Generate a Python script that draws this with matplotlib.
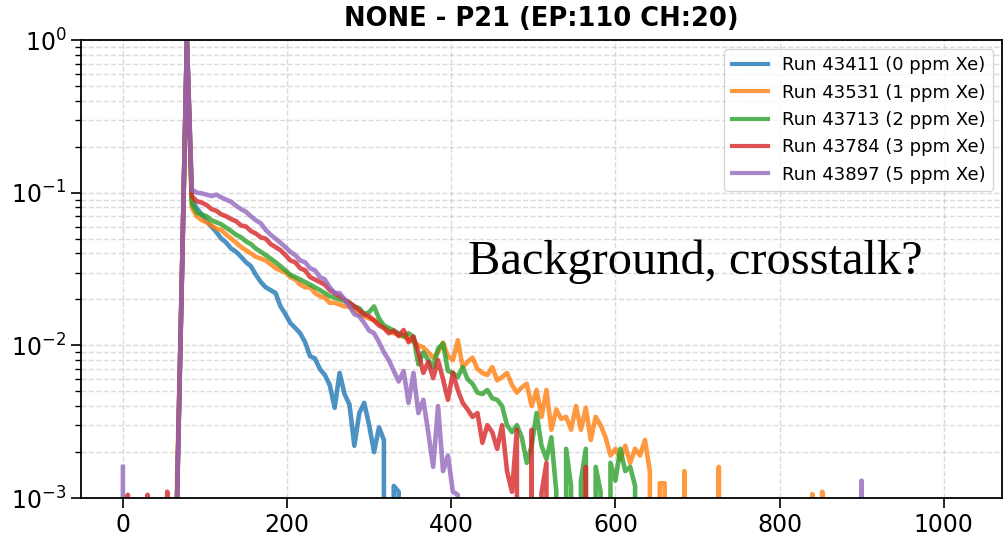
import numpy as np
import matplotlib
matplotlib.use("Agg")
import matplotlib.pyplot as plt

# Bin centres of the amplitude histogram (ADC units)
bin_width = 6
n_bins = 171
bins = np.arange(n_bins) * bin_width

labels = [
    "Run 43411 (0 ppm Xe)",
    "Run 43531 (1 ppm Xe)",
    "Run 43713 (2 ppm Xe)",
    "Run 43784 (3 ppm Xe)",
    "Run 43897 (5 ppm Xe)",
]
colors = ["tab:blue", "tab:orange", "tab:green", "tab:red", "tab:purple"]

# Normalised counts per bin, starting at bin 0; isolated far-tail counts
# are given separately as {bin centre: value}.
run_43411 = [
    0, 0, 0, 0, 0, 0, 0, 0, 0, 0, 0, 0.001, 0.03, 1.0,
    0.090, 0.079, 0.072, 0.065, 0.060, 0.055, 0.050, 0.047, 0.043, 0.041,
    0.038, 0.035, 0.033, 0.029, 0.026, 0.024, 0.023, 0.022, 0.018, 0.016,
    0.014, 0.013, 0.012, 0.0105, 0.0085, 0.0082, 0.0070, 0.0064, 0.0055, 0.0039,
    0.0066, 0.0048, 0.0041, 0.0022, 0.0036, 0.0042, 0.0030, 0.0020, 0.0029, 0.0024,
    0, 0.0012, 0.0011,
]
tail_43411 = {}

run_43531 = [
    0, 0, 0, 0, 0, 0, 0, 0, 0, 0, 0, 0.0013, 0.03, 1.0,
    0.080, 0.070, 0.066, 0.064, 0.061, 0.058, 0.057, 0.053, 0.050, 0.047,
    0.044, 0.042, 0.040, 0.038, 0.037, 0.036, 0.034, 0.032, 0.031, 0.030,
    0.028, 0.027, 0.025, 0.024, 0.024, 0.022, 0.021, 0.0205, 0.019, 0.019,
    0.0185, 0.018, 0.018, 0.017, 0.016, 0.0155, 0.015, 0.0147, 0.014, 0.013,
    0.0125, 0.012, 0.0118, 0.0114, 0.011, 0.0105, 0.0100, 0.0097, 0.0090, 0.0083,
    0.0090, 0.0104, 0.0085, 0.0080, 0.0108, 0.0072, 0.0078, 0.0083, 0.0070, 0.0066,
    0.0064, 0.0072, 0.0059, 0.0062, 0.0066, 0.0055, 0.0049, 0.0053, 0.0056, 0.0040,
    0.0051, 0.0034, 0.0051, 0.0028, 0.0038, 0.0033, 0.0034, 0.0028, 0.0040, 0.0028,
    0.0039, 0.0024, 0.0034, 0.0030, 0.0025, 0.0019, 0.0021, 0.0018, 0.0022, 0.0017,
    0.0021, 0.0019, 0.0024, 0.0015, 0, 0.00125, 0.00125,
]
tail_43531 = {684: 0.0015, 726: 0.0016, 840: 0.00106, 852: 0.0011}

run_43713 = [
    0, 0, 0, 0, 0, 0, 0, 0, 0, 0, 0, 0.001, 0.03, 1.0,
    0.085, 0.074, 0.072, 0.070, 0.066, 0.064, 0.062, 0.059, 0.056, 0.053,
    0.051, 0.048, 0.046, 0.043, 0.041, 0.039, 0.037, 0.035, 0.033, 0.031,
    0.029, 0.028, 0.027, 0.026, 0.025, 0.024, 0.023, 0.022, 0.021, 0.0205,
    0.020, 0.0195, 0.019, 0.018, 0.0175, 0.016, 0.0165, 0.018, 0.015, 0.0135,
    0.013, 0.0125, 0.012, 0.0115, 0.012, 0.0114, 0.0075, 0.0090, 0.0080, 0.0072,
    0.0095, 0.0103, 0.0068, 0.0066, 0.0062, 0.0072, 0.0060, 0.0056, 0.0049, 0.0048,
    0.0051, 0.0045, 0.0044, 0.0040, 0.0030, 0.0027, 0.0030, 0.0025, 0.0017, 0.0022,
    0.0036, 0.0022, 0.0018, 0.0025, 0.0011, 0, 0.0021, 0.0012, 0, 0.0013,
    0.0021, 0, 0.0016, 0.0011, 0, 0.0017, 0.0013, 0.0021, 0.0015, 0.0016,
    0.0012,
]
tail_43713 = {}

run_43784 = [
    0, 0.00105, 0, 0, 0, 0.00105, 0, 0, 0, 0.0011, 0, 0.001, 0.03, 1.0,
    0.095, 0.088, 0.086, 0.083, 0.078, 0.076, 0.072, 0.070, 0.067, 0.065,
    0.061, 0.060, 0.056, 0.054, 0.051, 0.050, 0.046, 0.044, 0.042, 0.039,
    0.036, 0.035, 0.032, 0.031, 0.028, 0.027, 0.026, 0.025, 0.023, 0.022,
    0.021, 0.020, 0.019, 0.018, 0.017, 0.016, 0.0155, 0.0145, 0.0135, 0.013,
    0.012, 0.0125, 0.0115, 0.0126, 0.0105, 0.0114, 0.0090, 0.0066, 0.0078, 0.0061,
    0.0080, 0.0060, 0.0044, 0.0066, 0.0051, 0.0042, 0.0038, 0.0034, 0.0036, 0.0023,
    0.0030, 0.0027, 0.0021, 0.0030, 0.0015, 0.0011, 0.0028, 0, 0, 0.0028,
    0, 0.00108, 0.0017,
]
tail_43784 = {564: 0.0016}

run_43897 = [
    0.0016, 0, 0, 0, 0, 0, 0, 0, 0, 0, 0, 0.001, 0.03, 1.0,
    0.105, 0.100, 0.099, 0.097, 0.095, 0.097, 0.093, 0.090, 0.087, 0.082,
    0.078, 0.075, 0.070, 0.066, 0.063, 0.057, 0.053, 0.050, 0.047, 0.044,
    0.041, 0.039, 0.036, 0.035, 0.032, 0.031, 0.028, 0.027, 0.024, 0.022,
    0.022, 0.020, 0.018, 0.016, 0.0155, 0.014, 0.0125, 0.0120, 0.0105, 0.0090,
    0.0080, 0.0068, 0.0058, 0.0068, 0.0042, 0.0066, 0.0036, 0.0044, 0.0027, 0.0016,
    0.0040, 0.0015, 0.0019, 0.0011, 0.00105,
]
tail_43897 = {900: 0.0013}

series = [run_43411, run_43531, run_43713, run_43784, run_43897]
tails = [tail_43411, tail_43531, tail_43713, tail_43784, tail_43897]


def full_histogram(values, tail):
    out = np.zeros(n_bins)
    out[:len(values)] = values
    for x, v in tail.items():
        out[int(round(x / bin_width))] = v
    return out


fig = plt.figure(figsize=(10.04, 5.48), dpi=100)
ax = fig.add_axes([0.0807, 0.0912, 0.9173, 0.8358])

for vals, tail, lab, col in zip(series, tails, labels, colors):
    ax.plot(bins, full_histogram(vals, tail), color=col, lw=3.3, alpha=0.8,
            label=lab)

ax.set_yscale("log")
ax.set_ylim(1e-3, 1.0)
ax.set_xlim(-51, 1071)
ax.set_xticks([0, 200, 400, 600, 800, 1000])

ax.grid(True, which="major", linestyle="--", color="#b0b0b0", alpha=0.45, lw=1.0)
ax.grid(True, which="minor", axis="y", linestyle="--", color="#b0b0b0", alpha=0.45, lw=1.0)

ax.tick_params(axis="both", which="major", labelsize=17, length=7, width=1.2)
ax.tick_params(axis="y", which="minor", length=4, width=1.0)
for sp in ax.spines.values():
    sp.set_linewidth(1.3)

ax.set_title("NONE - P21 (EP:110 CH:20)", fontsize=18.5, fontweight="bold", pad=10)

leg = ax.legend(loc="upper right", fontsize=13, handlelength=2.0,
                borderaxespad=0.5, labelspacing=0.52)
for line in leg.get_lines():
    line.set_linewidth(3.0)

ax.text(0.42, 0.489, "Background, crosstalk?", transform=ax.transAxes,
        fontsize=34.8, family="Liberation Serif", color="black")

fig.savefig("out.png", dpi=100)
